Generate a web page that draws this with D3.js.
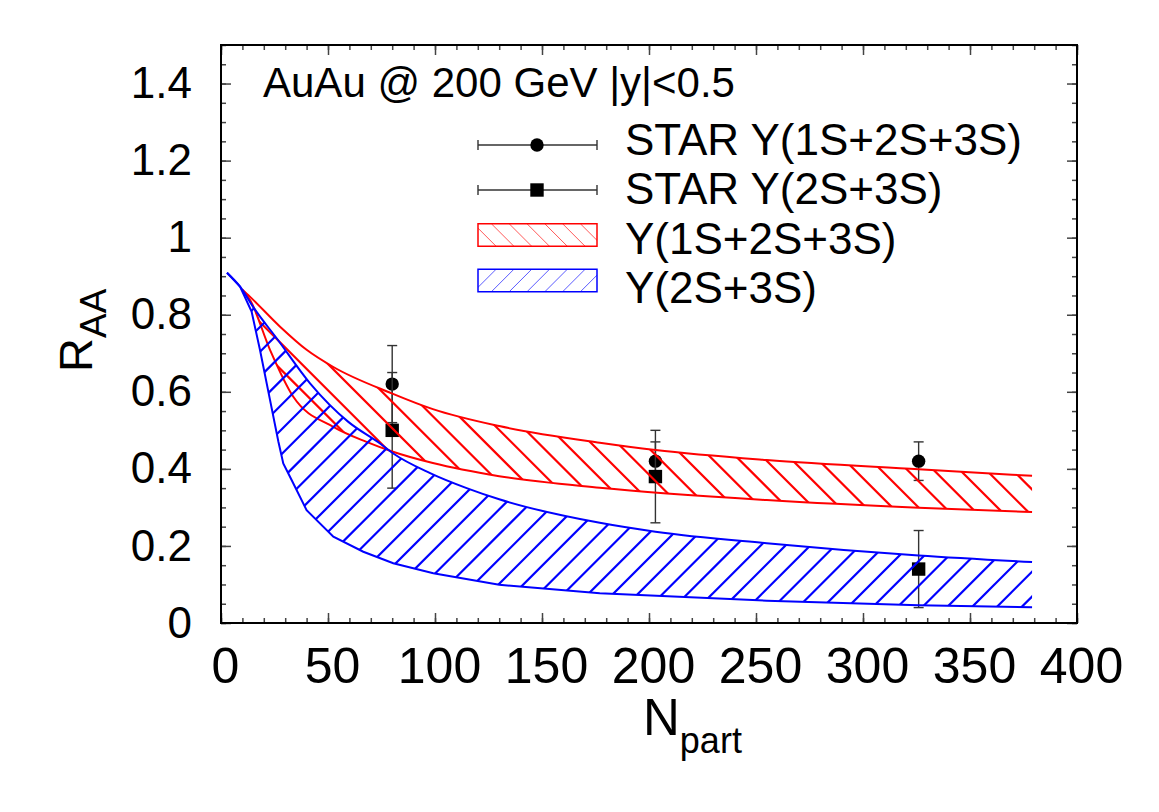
<!DOCTYPE html>
<html><head><meta charset="utf-8">
<script src="https://cdn.jsdelivr.net/npm/d3@7"></script>
<style>body{margin:0;background:#fff} text{font-family:"Liberation Sans",Arial,Helvetica,sans-serif;fill:#000}</style>
</head><body><svg id="c" width="1159" height="812"></svg>
<script>
// ---- data ----
const xTicks = [0, 50, 100, 150, 200, 250, 300, 350, 400];
const xTickLabels = ["0", "50", "100", "150", "200", "250", "300", "350", "400"];
const yTicks = [0, 0.2, 0.4, 0.6, 0.8, 1, 1.2, 1.4];
const yTickLabels = ["0", "0.2", "0.4", "0.6", "0.8", "1", "1.2", "1.4"];

const redUpperN = [9.8, 13.5, 27.6, 40, 52.3, 79.8, 99, 130, 177, 203, 255, 326, 379];
const redUpperR = [0.866, 0.847, 0.769, 0.709, 0.665, 0.596, 0.555, 0.511, 0.468, 0.449, 0.423, 0.399, 0.382];
const redLowerN = [9.8, 13.6, 22.9, 33.8, 52.5, 68, 80, 99, 130, 177, 255, 326, 379];
const redLowerR = [0.866, 0.838, 0.709, 0.587, 0.509, 0.470, 0.445, 0.415, 0.381, 0.351, 0.319, 0.299, 0.288];

const blueUpperN = [2.8, 8.9, 15.4, 26, 41.6, 59.5, 74.3, 80.5, 97.7, 114.8, 130, 177, 203, 255, 326, 379];
const blueUpperR = [0.909, 0.873, 0.817, 0.739, 0.622, 0.522, 0.466, 0.440, 0.389, 0.350, 0.321, 0.260, 0.237, 0.207, 0.175, 0.158];
const blueLowerN = [2.8, 8.9, 14.3, 18.2, 22.9, 26.8, 29.1, 33, 40, 52.5, 66.5, 80.5, 99.2, 130, 177, 255, 326, 379];
const blueLowerR = [0.909, 0.873, 0.808, 0.709, 0.579, 0.471, 0.414, 0.371, 0.293, 0.224, 0.185, 0.155, 0.129, 0.099, 0.077, 0.058, 0.046, 0.041];

const starAllN = [80, 203, 326];
const starAllR = [0.62, 0.42, 0.42];
const starAllErr = [0.10, 0.05, 0.05];
const star23N = [80, 203, 326];
const star23R = [0.50, 0.38, 0.14];
const star23Err = [0.15, 0.12, 0.10];

const legendLabels = ["STAR Y(1S+2S+3S)", "STAR Y(2S+3S)", "Y(1S+2S+3S)", "Y(2S+3S)"];
const titleText = "AuAu @ 200 GeV |y|<0.5";

// ---- layout ----
const L = 221, T = 45, R = 1077, B = 623;
const svg = d3.select("#c");
const x = d3.scaleLinear().domain([0, 400]).range([L, R]);
const y = d3.scaleLinear().domain([0, 1.5]).range([B, T]);

const zip = (a, b) => a.map((v, i) => [v, b[i]]);
const smooth = d3.line().x(d => x(d[0])).y(d => y(d[1])).curve(d3.curveMonotoneX);
const straight = d3.line().x(d => x(d[0])).y(d => y(d[1]));

// ---- axes ticks ----
const tickCol = "#444";
function styleAxis(g) {
  g.select(".domain").remove();
  g.selectAll(".tick line").attr("stroke", tickCol).attr("stroke-width", 1.5);
}
const minorX = d3.range(0, 401, 10);
const minorY = d3.range(0, 1.5001, 0.05);
svg.append("g").attr("transform", `translate(0,${B})`)
  .call(d3.axisBottom(x).tickValues(minorX).tickSize(-5).tickFormat("")).call(styleAxis);
svg.append("g").attr("transform", `translate(0,${T})`)
  .call(d3.axisTop(x).tickValues(minorX).tickSize(-5).tickFormat("")).call(styleAxis);
svg.append("g").attr("transform", `translate(${L},0)`)
  .call(d3.axisLeft(y).tickValues(minorY).tickSize(-5).tickFormat("")).call(styleAxis);
svg.append("g").attr("transform", `translate(${R},0)`)
  .call(d3.axisRight(y).tickValues(minorY).tickSize(-5).tickFormat("")).call(styleAxis);

const xb = svg.append("g").attr("transform", `translate(0,${B})`)
  .call(d3.axisBottom(x).tickValues(xTicks).tickSize(-10).tickPadding(24).tickFormat((d, i) => xTickLabels[i])).call(styleAxis);
xb.selectAll("text").attr("font-size", 50).attr("dx", 4).style("font-family", '"Liberation Sans",Arial,sans-serif').attr("fill", "#000");
svg.append("g").attr("transform", `translate(0,${T})`)
  .call(d3.axisTop(x).tickValues(xTicks).tickSize(-10).tickFormat("")).call(styleAxis);
const yl = svg.append("g").attr("transform", `translate(${L},0)`)
  .call(d3.axisLeft(y).tickValues(yTicks).tickSize(-10).tickPadding(29).tickFormat((d, i) => yTickLabels[i])).call(styleAxis);
yl.selectAll("text").attr("font-size", 44).style("font-family", '"Liberation Sans",Arial,sans-serif').attr("fill", "#000");
svg.append("g").attr("transform", `translate(${R},0)`)
  .call(d3.axisRight(y).tickValues(yTicks).tickSize(-10).tickFormat("")).call(styleAxis);

// ---- clip to plot ----
const defs = svg.append("defs");
defs.append("clipPath").attr("id", "plotclip").append("rect")
  .attr("x", L).attr("y", T).attr("width", R - L).attr("height", B - T);
const plot = svg.append("g").attr("clip-path", "url(#plotclip)");

// ---- data points (drawn first, under the bands) ----
const errCol = "#333";
function drawPoints(Ns, Rs, Es, shape) {
  const g = plot.append("g");
  Ns.forEach((n, i) => {
    const cx = x(n), y1 = y(Rs[i] + Es[i]), y0 = y(Rs[i] - Es[i]);
    g.append("line").attr("x1", cx).attr("x2", cx).attr("y1", y1).attr("y2", y0).attr("stroke", errCol).attr("stroke-width", 1.4);
    [y1, y0].forEach(yy => g.append("line").attr("x1", cx - 5).attr("x2", cx + 5).attr("y1", yy).attr("y2", yy).attr("stroke", errCol).attr("stroke-width", 1.4));
    if (shape === "circle") g.append("circle").attr("cx", cx).attr("cy", y(Rs[i])).attr("r", 6.7).attr("fill", "#000");
    else g.append("rect").attr("x", cx - 6.7).attr("y", y(Rs[i]) - 6.7).attr("width", 13.4).attr("height", 13.4).attr("fill", "#000");
  });
}
drawPoints(starAllN, starAllR, starAllErr, "circle");
drawPoints(star23N, star23R, star23Err, "square");

// ---- hatched bands ----
function band(upN, upR, loN, loR, color, id, dir, period, phase, upGen, loGen) {
  const upPath = upGen(zip(upN, upR));
  const loPathRev = loGen(zip(loN, loR).reverse());
  defs.append("clipPath").attr("id", id).append("path").attr("d", upPath + "L" + loPathRev.slice(1) + "Z");
  const g = plot.append("g");
  const hg = g.append("g").attr("clip-path", `url(#${id})`);
  let cmin, cmax;
  if (dir === "\\") { cmin = L - B; cmax = R - T; } else { cmin = L + T; cmax = R + B; }
  const k0 = Math.floor((cmin - phase) / period), k1 = Math.ceil((cmax - phase) / period);
  for (let k = k0; k <= k1; k++) {
    const c = phase + k * period;
    const ya = T, yb = B;
    const xa = dir === "\\" ? c + ya : c - ya;
    const xb2 = dir === "\\" ? c + yb : c - yb;
    hg.append("line").attr("x1", xa).attr("y1", ya).attr("x2", xb2).attr("y2", yb)
      .attr("stroke", color).attr("stroke-width", 2.2);
  }
  g.append("path").attr("d", upPath).attr("fill", "none").attr("stroke", color).attr("stroke-width", 2);
  g.append("path").attr("d", loGen(zip(loN, loR))).attr("fill", "none").attr("stroke", color).attr("stroke-width", 2);
}
band(redUpperN, redUpperR, redLowerN, redLowerR, "#ff0000", "redclip", "\\", 26.3, 542.6 % 26.3, smooth, smooth);
band(blueUpperN, blueUpperR, blueLowerN, blueLowerR, "#0000ff", "blueclip", "/", 24.8, 1579 % 24.8, smooth, straight);

// ---- frame ----
svg.append("rect").attr("x", L).attr("y", T).attr("width", R - L).attr("height", B - T)
  .attr("fill", "none").attr("stroke", "#000").attr("stroke-width", 2);

// ---- title ----
svg.append("text").attr("x", 263).attr("y", 97).attr("font-size", 42).text(titleText);

// ---- axis titles ----
const xt = svg.append("text").attr("x", 643).attr("y", 735).attr("font-size", 51);
xt.append("tspan").text("N");
xt.append("tspan").attr("font-size", 36).attr("dy", 18).text("part");
const yt = svg.append("text").attr("transform", "translate(92,372) rotate(-90)").attr("font-size", 47);
yt.append("tspan").text("R");
yt.append("tspan").attr("font-size", 37).attr("dy", 14).text("AA");

// ---- legend ----
const lgX0 = 478, lgX1 = 597, lgMid = 537;
const rowY = [145, 190, 235, 280.5];
const textY = [155, 204, 254, 303];
const lg = svg.append("g");
[0, 1].forEach(i => {
  const yy = rowY[i];
  lg.append("line").attr("x1", lgX0).attr("x2", lgX1).attr("y1", yy).attr("y2", yy).attr("stroke", errCol).attr("stroke-width", 1.4);
  [lgX0, lgX1].forEach(xx => lg.append("line").attr("x1", xx).attr("x2", xx).attr("y1", yy - 5).attr("y2", yy + 5).attr("stroke", errCol).attr("stroke-width", 1.4));
  if (i === 0) lg.append("circle").attr("cx", lgMid).attr("cy", yy).attr("r", 6.7).attr("fill", "#000");
  else lg.append("rect").attr("x", lgMid - 6.7).attr("y", yy - 6.7).attr("width", 13.4).attr("height", 13.4).attr("fill", "#000");
});
function legendBox(i, color, dir, id) {
  const yy = rowY[i], h = 22.5, top = yy - h / 2;
  defs.append("clipPath").attr("id", id).append("rect").attr("x", lgX0).attr("y", top).attr("width", lgX1 - lgX0).attr("height", h);
  const hg = lg.append("g").attr("clip-path", `url(#${id})`);
  const p = 17.8;
  for (let xx = lgX0 - 40; xx <= lgX1 + 40; xx += p) {
    if (dir === "\\") hg.append("line").attr("x1", xx).attr("y1", top).attr("x2", xx + h).attr("y2", top + h);
    else hg.append("line").attr("x1", xx).attr("y1", top + h).attr("x2", xx + h).attr("y2", top);
  }
  hg.selectAll("line").attr("stroke", color).attr("stroke-width", 1).attr("stroke-opacity", 0.65);
  lg.append("rect").attr("x", lgX0).attr("y", top).attr("width", lgX1 - lgX0).attr("height", h)
    .attr("fill", "none").attr("stroke", color).attr("stroke-width", 1.5);
}
legendBox(2, "#ff0000", "\\", "lgred");
legendBox(3, "#0000ff", "/", "lgblue");
legendLabels.forEach((t, i) => lg.append("text").attr("x", 625).attr("y", textY[i]).attr("font-size", 44).text(t));
</script></body></html>
